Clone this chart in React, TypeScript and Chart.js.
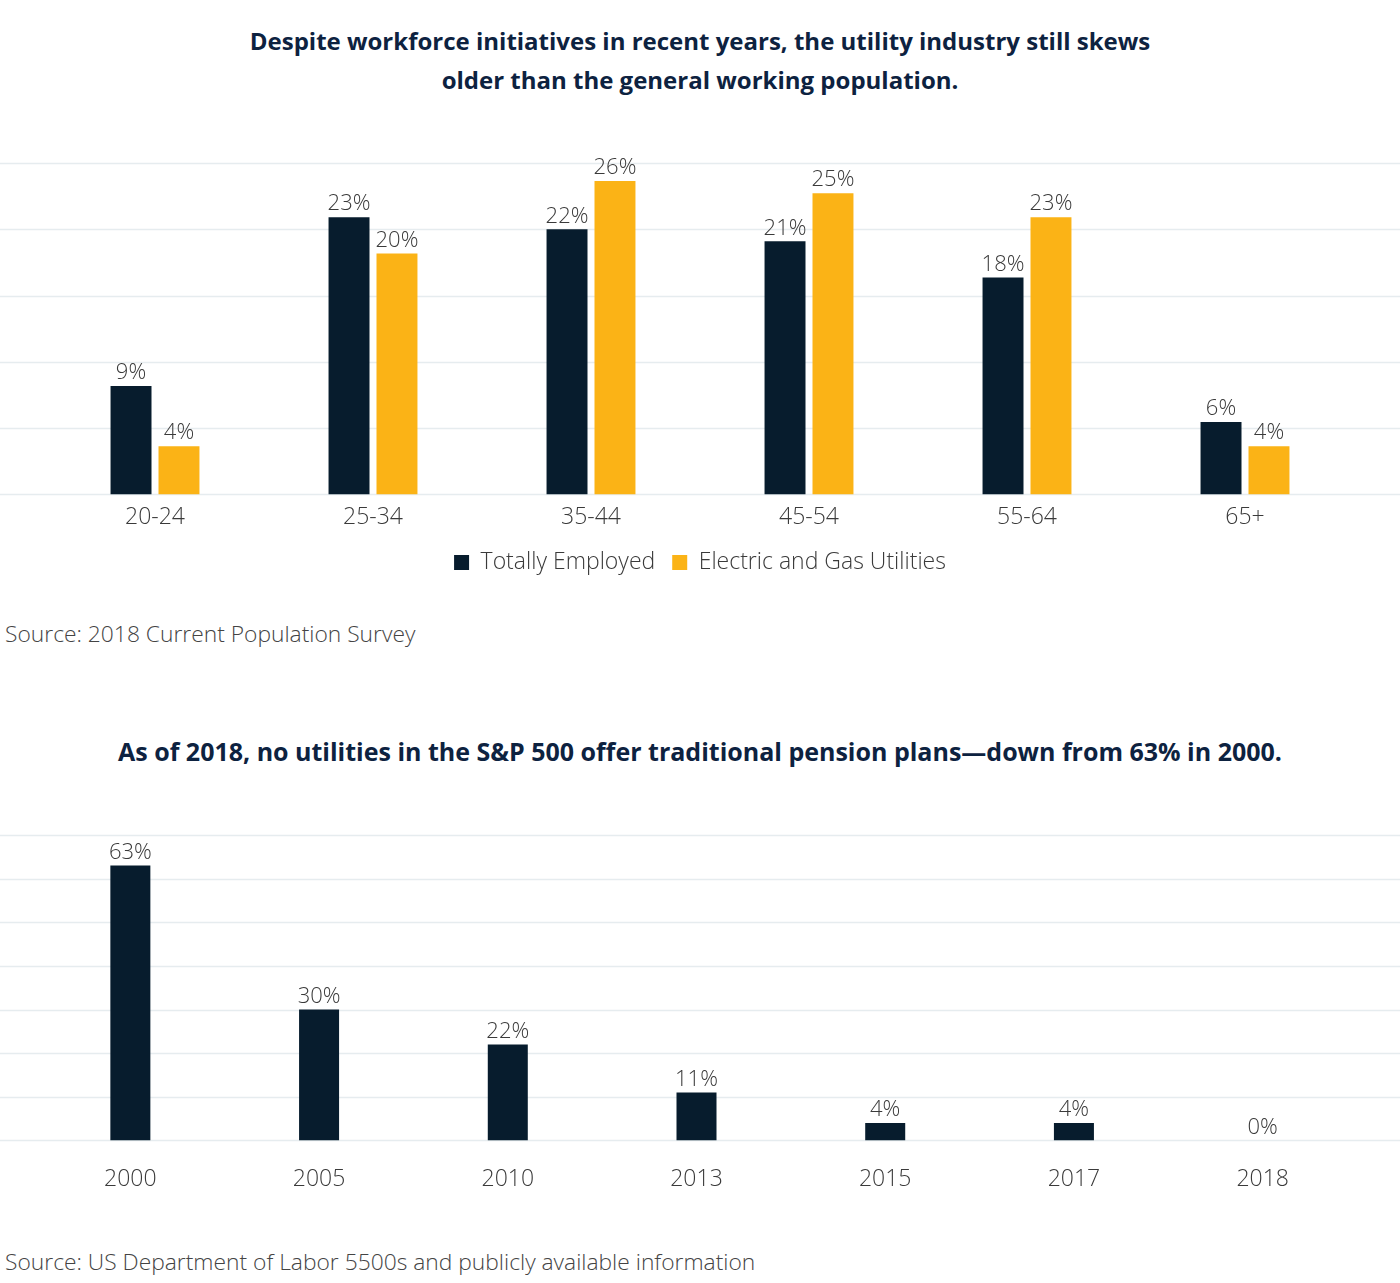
import React, { useEffect, useRef } from "react";
import { Chart, registerables } from "chart.js";

Chart.register(...registerables);

const ageGroups = ["20-24", "25-34", "35-44", "45-54", "55-64", "65+"];
const totallyEmployed = [9, 23, 22, 21, 18, 6];
const electricGas = [4, 20, 26, 25, 23, 4];
const years = ["2000", "2005", "2010", "2013", "2015", "2017", "2018"];
const pensionShare = [63, 30, 22, 11, 4, 4, 0];

const NAVY = "#071c2d";
const GOLD = "#fbb316";
const GRID = "#e6ecef";
const TEXT = "#3a3a3a";
const FONT = "'Open Sans', 'DejaVu Sans', sans-serif";
const LABEL_SIZE = 23;

const fullGrid = {
  id: "fullGrid",
  beforeDatasetsDraw(chart: any) {
    const y = chart.scales.y;
    const ctx = chart.ctx;
    ctx.save();
    ctx.strokeStyle = GRID;
    ctx.lineWidth = 1.5;
    y.ticks.forEach((t: any) => {
      const py = Math.round(y.getPixelForValue(t.value)) + 0.5;
      ctx.beginPath();
      ctx.moveTo(0, py);
      ctx.lineTo(chart.width, py);
      ctx.stroke();
    });
    ctx.restore();
  },
};

const valueLabels = {
  id: "valueLabels",
  afterDatasetsDraw(chart: any) {
    const ctx = chart.ctx;
    ctx.save();
    ctx.font = `300 ${LABEL_SIZE - 1}px ${FONT}`;
    ctx.fillStyle = TEXT;
    ctx.textAlign = "center";
    ctx.textBaseline = "bottom";
    chart.data.datasets.forEach((ds: any, i: number) => {
      const meta = chart.getDatasetMeta(i);
      meta.data.forEach((bar: any, j: number) => {
        ctx.fillText(ds.data[j] + "%", bar.x, bar.y - 2);
      });
    });
    ctx.restore();
  },
};

function TopChart() {
  const ref = useRef<HTMLCanvasElement>(null);
  useEffect(() => {
    const chart = new Chart(ref.current!, {
      type: "bar",
      data: {
        labels: ageGroups,
        datasets: [
          {
            label: "Totally Employed",
            data: totallyEmployed,
            backgroundColor: NAVY,
            categoryPercentage: 0.44,
            barPercentage: 0.854,
          },
          {
            label: "Electric and Gas Utilities",
            data: electricGas,
            backgroundColor: GOLD,
            categoryPercentage: 0.44,
            barPercentage: 0.854,
          },
        ],
      },
      options: {
        animation: false,
        responsive: false,
        maintainAspectRatio: false,
        layout: { padding: { left: 46, right: 46, top: 33, bottom: 5 } },
        plugins: {
          tooltip: { enabled: false },
          legend: {
            position: "bottom",
            labels: {
              boxWidth: 15,
              boxHeight: 15,
              padding: 17,
              color: TEXT,
              font: { family: FONT, size: LABEL_SIZE, weight: "300" },
            },
          },
        },
        scales: {
          x: {
            grid: { display: false, drawTicks: false },
            border: { display: false },
            ticks: {
              padding: 9,
              color: TEXT,
              font: { family: FONT, size: LABEL_SIZE, weight: "300" },
            },
            afterFit: (s: any) => {
              s.height -= 6;
            },
          },
          y: {
            min: 0,
            max: 27.5,
            ticks: { display: false, stepSize: 5.5 },
            grid: { display: false, drawTicks: false },
            border: { display: false },
          },
        },
      } as any,
      plugins: [fullGrid, valueLabels],
    });
    return () => chart.destroy();
  }, []);
  return (
    <canvas
      ref={ref}
      width={1400}
      height={459}
      style={{ position: "absolute", left: 0, top: 130, width: 1400, height: 459 }}
    />
  );
}

function BottomChart() {
  const ref = useRef<HTMLCanvasElement>(null);
  useEffect(() => {
    const chart = new Chart(ref.current!, {
      type: "bar",
      data: {
        labels: years,
        datasets: [
          {
            label: "Pension",
            data: pensionShare,
            backgroundColor: NAVY,
            categoryPercentage: 1,
            barPercentage: 0.212,
          },
        ],
      },
      options: {
        animation: false,
        responsive: false,
        maintainAspectRatio: false,
        layout: { padding: { left: 36, right: 43, top: 35, bottom: 12 } },
        plugins: {
          tooltip: { enabled: false },
          legend: { display: false },
        },
        scales: {
          x: {
            grid: { display: false, drawTicks: false },
            border: { display: false },
            ticks: {
              padding: 25,
              color: TEXT,
              font: { family: FONT, size: LABEL_SIZE, weight: "300" },
            },
          },
          y: {
            min: 0,
            max: 70,
            ticks: { display: false, stepSize: 10 },
            grid: { display: false, drawTicks: false },
            border: { display: false },
          },
        },
      } as any,
      plugins: [fullGrid, valueLabels],
    });
    return () => chart.destroy();
  }, []);
  return (
    <canvas
      ref={ref}
      width={1400}
      height={430}
      style={{ position: "absolute", left: 0, top: 800, width: 1400, height: 430 }}
    />
  );
}

const titleStyle: React.CSSProperties = {
  position: "absolute",
  left: 0,
  width: 1400,
  textAlign: "center",
  fontFamily: FONT,
  fontWeight: 700,
  fontSize: 24,
  lineHeight: "39px",
  color: "#0d2240",
  margin: 0,
};

const sourceStyle: React.CSSProperties = {
  position: "absolute",
  left: 5,
  fontFamily: FONT,
  fontWeight: 300,
  fontSize: 22.8,
  lineHeight: "26px",
  color: "#444444",
  whiteSpace: "nowrap",
};

export default function App() {
  return (
    <div
      style={{
        position: "absolute",
        left: 0,
        top: 0,
        width: 1400,
        height: 1283,
        background: "#ffffff",
        overflow: "hidden",
      }}
    >
      <div style={{ ...titleStyle, top: 21 }}>
        Despite workforce initiatives in recent years, the utility industry still skews
        <br />
        older than the general working population.
      </div>
      <TopChart />
      <div style={{ ...sourceStyle, top: 621 }}>Source: 2018 Current Population Survey</div>
      <div style={{ ...titleStyle, top: 732, fontSize: 25 }}>
        As of 2018, no utilities in the S&amp;P 500 offer traditional pension plans—down from 63% in 2000.
      </div>
      <BottomChart />
      <div style={{ ...sourceStyle, top: 1249 }}>
        Source: US Department of Labor 5500s and publicly available information
      </div>
    </div>
  );
}
